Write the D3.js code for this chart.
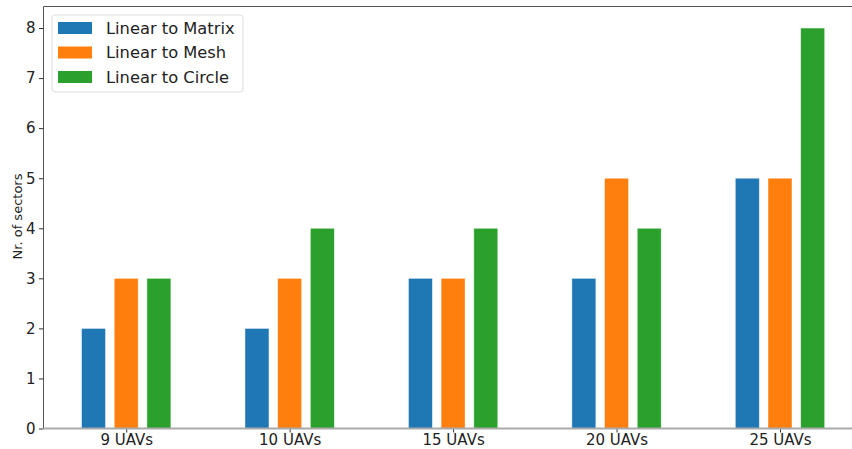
<!DOCTYPE html>
<html>
<head>
<meta charset="utf-8">
<script src="https://cdn.jsdelivr.net/npm/d3@7"></script>
<style>
  body { margin: 0; background: #fff; }
  svg { font-family: "DejaVu Sans", sans-serif; }
</style>
</head>
<body>
<div id="chart"></div>
<script>
var groups = ["9 UAVs", "10 UAVs", "15 UAVs", "20 UAVs", "25 UAVs"];
var seriesNames = ["Linear to Matrix", "Linear to Mesh", "Linear to Circle"];
var seriesColors = ["#1f77b4", "#ff7f0e", "#2ca02c"];
var matrixValues = [2, 2, 3, 3, 5];
var meshValues = [3, 3, 3, 5, 5];
var circleValues = [3, 4, 4, 4, 8];
var yTicks = [0, 1, 2, 3, 4, 5, 6, 7, 8];

var width = 852, height = 449;
var plotLeft = 43.5, plotTop = 6.5, plotBottom = 428.5;

var svg = d3.select("#chart").append("svg")
    .attr("width", width)
    .attr("height", height);

var x = d3.scaleLinear().domain([-0.506, 4.506]).range([plotLeft, 862.7]);
var y = d3.scaleLinear().domain([0, 8.43]).range([plotBottom, plotTop]);

var barW = 0.147, offset = 0.2;
var allSeries = [matrixValues, meshValues, circleValues];

allSeries.forEach(function(vals, s) {
  svg.append("g")
    .selectAll("rect")
    .data(vals)
    .enter().append("rect")
      .attr("x", (d, i) => x(i + (s - 1) * offset - barW / 2))
      .attr("width", x(barW) - x(0))
      .attr("y", d => y(d))
      .attr("height", d => y(0) - y(d))
      .attr("fill", seriesColors[s])
      .attr("stroke", "#fff")
      .attr("stroke-opacity", 0.6)
      .attr("stroke-width", 0.8);
});

// spines
svg.append("line")
    .attr("x1", plotLeft).attr("x2", width).attr("y1", plotTop).attr("y2", plotTop)
    .attr("stroke", "#555").attr("stroke-width", 1);
svg.append("line")
    .attr("x1", plotLeft).attr("x2", plotLeft).attr("y1", plotTop).attr("y2", plotBottom)
    .attr("stroke", "#555").attr("stroke-width", 1);

// y axis
var yAxis = svg.append("g")
    .attr("transform", "translate(" + plotLeft + ",0)")
    .call(d3.axisLeft(y).tickValues(yTicks).tickSize(4.5).tickPadding(3.5));
yAxis.select(".domain").remove();
yAxis.selectAll(".tick line").attr("stroke", "#333");
yAxis.selectAll("text").attr("font-size", 15).attr("fill", "#222").attr("font-family", "DejaVu Sans");

// x axis
var xAxis = svg.append("g")
    .attr("transform", "translate(0," + plotBottom + ")")
    .call(d3.axisBottom(x).tickValues(d3.range(groups.length))
      .tickFormat(i => groups[i]).tickSize(4).tickPadding(2));
xAxis.select(".domain").remove();
xAxis.selectAll(".tick line").attr("stroke", "#333");
xAxis.selectAll("text").attr("font-size", 15).attr("fill", "#222").attr("font-family", "DejaVu Sans");

svg.append("line")
    .attr("x1", plotLeft).attr("x2", width).attr("y1", plotBottom).attr("y2", plotBottom)
    .attr("stroke", "#aaa").attr("stroke-width", 2);

// y label
svg.append("text")
    .attr("transform", "translate(21.5,216.5) rotate(-90)")
    .attr("text-anchor", "middle")
    .attr("font-size", 13)
    .attr("fill", "#222")
    .text("Nr. of sectors");

// legend
var legend = svg.append("g");
legend.append("rect")
    .attr("x", 52).attr("y", 15).attr("width", 191).attr("height", 77)
    .attr("rx", 3)
    .attr("fill", "#fff").attr("fill-opacity", 0.8)
    .attr("stroke", "#ddd");
var item = legend.selectAll("g.item")
    .data(seriesNames)
    .enter().append("g")
      .attr("class", "item")
      .attr("transform", (d, i) => "translate(58," + (28 + i * 24.5) + ")");
item.append("rect")
    .attr("x", 0).attr("y", -6).attr("width", 34).attr("height", 12)
    .attr("fill", (d, i) => seriesColors[i]);
item.append("text")
    .attr("x", 48).attr("dy", "0.35em")
    .attr("font-size", 16.3)
    .attr("fill", "#222")
    .text(d => d);
</script>
</body>
</html>
